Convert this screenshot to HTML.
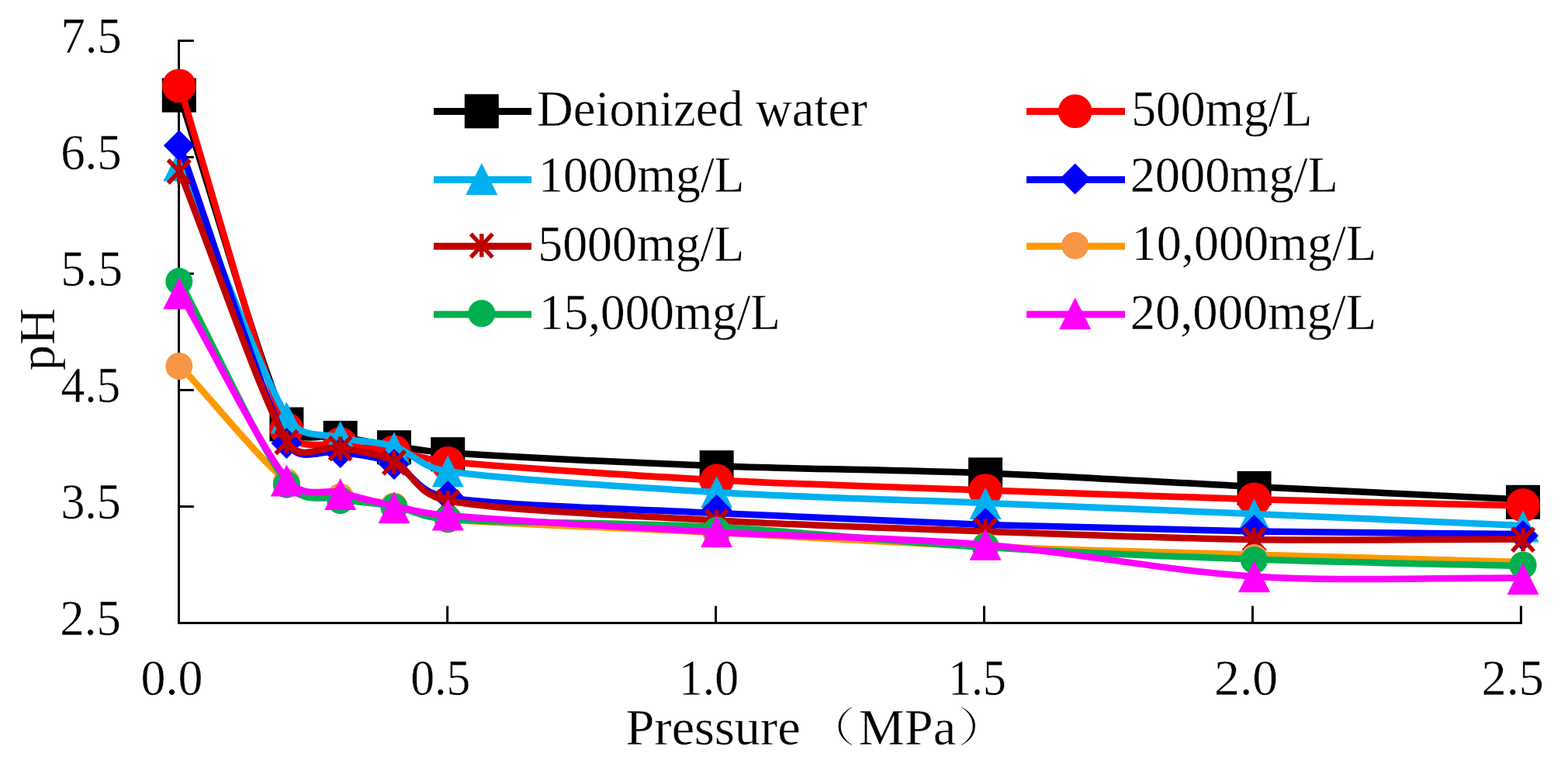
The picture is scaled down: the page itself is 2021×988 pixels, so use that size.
<!DOCTYPE html><html><head><meta charset="utf-8"><title>pH vs Pressure</title><style>html,body{margin:0;padding:0;background:#fff;}svg{display:block;}text{font-family:"Liberation Serif","Noto Serif CJK SC",serif;fill:#000;}</style></head><body>
<svg width="2021" height="988" viewBox="0 0 2021 988">
<rect width="2021" height="988" fill="#fff"/>
<rect x="229" y="51" width="3" height="753" fill="#000"/><rect x="229" y="801" width="1733" height="3" fill="#000"/><rect x="229" y="51.00" width="20.8" height="3" fill="#000"/><rect x="229" y="201.00" width="20.8" height="3" fill="#000"/><rect x="229" y="351.00" width="20.8" height="3" fill="#000"/><rect x="229" y="501.00" width="20.8" height="3" fill="#000"/><rect x="229" y="651.00" width="20.8" height="3" fill="#000"/><rect x="575.14" y="780.5" width="3" height="23.5" fill="#000"/><rect x="921.08" y="780.5" width="3" height="23.5" fill="#000"/><rect x="1267.02" y="780.5" width="3" height="23.5" fill="#000"/><rect x="1612.96" y="780.5" width="3" height="23.5" fill="#000"/><rect x="1958.90" y="780.5" width="3" height="23.5" fill="#000"/>
<path d="M230.80,120.70 C276.99,262.00 334.73,471.03 369.38,544.60 C384.60,576.93 415.57,557.15 438.66,562.10 C461.76,567.05 484.86,570.78 507.95,574.30 C531.05,577.82 542.38,581.03 577.24,583.20 C646.53,587.52 808.20,595.83 923.68,600.20 C1039.16,604.57 1154.64,604.95 1270.12,609.40 C1385.60,613.85 1501.08,621.22 1616.56,626.90 C1732.04,632.58 1847.52,637.97 1963.00,643.50" stroke="#000000" stroke-width="8.5" fill="none" stroke-linejoin="round" stroke-linecap="round"/>
<rect x="208.80" y="100.70" width="44" height="44" fill="#000000"/>
<rect x="347.38" y="524.60" width="44" height="44" fill="#000000"/>
<rect x="416.66" y="542.10" width="44" height="44" fill="#000000"/>
<rect x="485.95" y="554.30" width="44" height="44" fill="#000000"/>
<rect x="555.24" y="563.20" width="44" height="44" fill="#000000"/>
<rect x="901.68" y="580.20" width="44" height="44" fill="#000000"/>
<rect x="1248.12" y="589.40" width="44" height="44" fill="#000000"/>
<rect x="1594.56" y="606.90" width="44" height="44" fill="#000000"/>
<rect x="1941.00" y="624.80" width="44" height="44" fill="#000000"/>
<path d="M230.80,108.50 C276.99,256.33 334.73,474.58 369.38,552.00 C384.16,585.04 415.57,568.25 438.66,573.00 C461.76,577.75 484.86,576.87 507.95,580.50 C531.05,584.13 542.01,591.59 577.24,594.80 C646.53,601.12 808.20,612.28 923.68,618.40 C1039.16,624.52 1154.64,627.37 1270.12,631.50 C1385.60,635.63 1501.08,639.87 1616.56,643.20 C1732.04,646.53 1847.52,648.73 1963.00,651.50" stroke="#FF0000" stroke-width="8.5" fill="none" stroke-linejoin="round" stroke-linecap="round"/>
<circle cx="230.80" cy="110.50" r="21.80" fill="#FF0000"/>
<circle cx="369.38" cy="553.00" r="21.80" fill="#FF0000"/>
<circle cx="438.66" cy="572.00" r="21.80" fill="#FF0000"/>
<circle cx="507.95" cy="582.20" r="21.80" fill="#FF0000"/>
<circle cx="577.24" cy="596.80" r="21.80" fill="#FF0000"/>
<circle cx="923.68" cy="619.40" r="21.80" fill="#FF0000"/>
<circle cx="1270.12" cy="632.00" r="21.80" fill="#FF0000"/>
<circle cx="1616.56" cy="643.20" r="21.80" fill="#FF0000"/>
<circle cx="1963.00" cy="650.90" r="21.80" fill="#FF0000"/>
<path d="M230.80,210.90 C276.99,319.27 334.73,477.23 369.38,536.00 C388.30,568.11 415.57,557.00 438.66,563.50 C461.76,570.00 484.86,567.75 507.95,575.00 C531.05,582.25 539.46,601.62 577.24,607.00 C646.53,616.87 808.20,627.37 923.68,634.20 C1039.16,641.03 1154.64,643.37 1270.12,648.00 C1385.60,652.63 1501.08,657.17 1616.56,662.00 C1732.04,666.83 1847.52,672.00 1963.00,677.00" stroke="#00B0F0" stroke-width="8.5" fill="none" stroke-linejoin="round" stroke-linecap="round"/>
<path d="M230.80,192.40 L251.30,233.40 L210.30,233.40 Z" fill="#00B0F0"/>
<path d="M369.38,517.50 L389.88,558.50 L348.88,558.50 Z" fill="#00B0F0"/>
<path d="M438.66,542.20 L459.16,583.20 L418.16,583.20 Z" fill="#00B0F0"/>
<path d="M507.95,556.30 L528.45,597.30 L487.45,597.30 Z" fill="#00B0F0"/>
<path d="M577.24,586.50 L597.74,627.50 L556.74,627.50 Z" fill="#00B0F0"/>
<path d="M923.68,613.20 L944.18,654.20 L903.18,654.20 Z" fill="#00B0F0"/>
<path d="M1270.12,628.00 L1290.62,669.00 L1249.62,669.00 Z" fill="#00B0F0"/>
<path d="M1616.56,642.40 L1637.06,683.40 L1596.06,683.40 Z" fill="#00B0F0"/>
<path d="M1963.00,657.50 L1983.50,698.50 L1942.50,698.50 Z" fill="#00B0F0"/>
<path d="M230.80,185.50 C276.99,313.33 334.73,502.92 369.38,569.00 C385.74,600.22 415.57,577.33 438.66,582.00 C461.76,586.67 484.86,587.17 507.95,597.00 C531.05,606.83 536.68,634.76 577.24,641.00 C646.53,651.67 808.20,655.17 923.68,661.00 C1039.16,666.83 1154.64,672.08 1270.12,676.00 C1385.60,679.92 1501.08,682.50 1616.56,684.50 C1732.04,686.50 1847.52,686.83 1963.00,688.00" stroke="#0000FF" stroke-width="8.5" fill="none" stroke-linejoin="round" stroke-linecap="round"/>
<path d="M230.80,167.50 L250.80,187.50 L230.80,207.50 L210.80,187.50 Z" fill="#0000FF"/>
<path d="M369.38,551.00 L389.38,571.00 L369.38,591.00 L349.38,571.00 Z" fill="#0000FF"/>
<path d="M438.66,563.00 L458.66,583.00 L438.66,603.00 L418.66,583.00 Z" fill="#0000FF"/>
<path d="M507.95,578.00 L527.95,598.00 L507.95,618.00 L487.95,598.00 Z" fill="#0000FF"/>
<path d="M577.24,619.00 L597.24,639.00 L577.24,659.00 L557.24,639.00 Z" fill="#0000FF"/>
<path d="M923.68,637.00 L943.68,657.00 L923.68,677.00 L903.68,657.00 Z" fill="#0000FF"/>
<path d="M1270.12,654.00 L1290.12,674.00 L1270.12,694.00 L1250.12,674.00 Z" fill="#0000FF"/>
<path d="M1616.56,663.00 L1636.56,683.00 L1616.56,703.00 L1596.56,683.00 Z" fill="#0000FF"/>
<path d="M1963.00,670.00 L1983.00,690.00 L1963.00,710.00 L1943.00,690.00 Z" fill="#0000FF"/>
<path d="M230.80,219.00 C276.99,335.33 334.73,508.33 369.38,568.00 C386.92,598.21 415.57,572.58 438.66,577.00 C461.76,581.42 484.86,583.17 507.95,594.50 C531.05,605.83 535.07,637.29 577.24,645.00 C646.53,657.67 808.20,663.92 923.68,670.50 C1039.16,677.08 1154.64,680.42 1270.12,684.50 C1385.60,688.58 1501.08,693.33 1616.56,695.00 C1732.04,696.67 1847.52,694.67 1963.00,694.50" stroke="#C00000" stroke-width="8.5" fill="none" stroke-linejoin="round" stroke-linecap="round"/>
<path d="M216.80,206.00 L244.80,236.00 M244.80,206.00 L216.80,236.00 M230.80,206.00 L230.80,236.00" stroke="#C00000" stroke-width="5.5" fill="none"/>
<path d="M355.38,554.50 L383.38,584.50 M383.38,554.50 L355.38,584.50 M369.38,554.50 L369.38,584.50" stroke="#C00000" stroke-width="5.5" fill="none"/>
<path d="M424.66,562.60 L452.66,592.60 M452.66,562.60 L424.66,592.60 M438.66,562.60 L438.66,592.60" stroke="#C00000" stroke-width="5.5" fill="none"/>
<path d="M493.95,580.80 L521.95,610.80 M521.95,580.80 L493.95,610.80 M507.95,580.80 L507.95,610.80" stroke="#C00000" stroke-width="5.5" fill="none"/>
<path d="M563.24,632.00 L591.24,662.00 M591.24,632.00 L563.24,662.00 M577.24,632.00 L577.24,662.00" stroke="#C00000" stroke-width="5.5" fill="none"/>
<path d="M909.68,657.00 L937.68,687.00 M937.68,657.00 L909.68,687.00 M923.68,657.00 L923.68,687.00" stroke="#C00000" stroke-width="5.5" fill="none"/>
<path d="M1256.12,668.50 L1284.12,698.50 M1284.12,668.50 L1256.12,698.50 M1270.12,668.50 L1270.12,698.50" stroke="#C00000" stroke-width="5.5" fill="none"/>
<path d="M1602.56,680.00 L1630.56,710.00 M1630.56,680.00 L1602.56,710.00 M1616.56,680.00 L1616.56,710.00" stroke="#C00000" stroke-width="5.5" fill="none"/>
<path d="M1949.00,680.20 L1977.00,710.20 M1977.00,680.20 L1949.00,710.20 M1963.00,680.20 L1963.00,710.20" stroke="#C00000" stroke-width="5.5" fill="none"/>
<path d="M230.80,469.70 C276.99,519.80 334.73,591.78 369.38,620.00 C397.23,642.69 415.57,634.00 438.66,639.00 C461.76,644.00 484.86,645.00 507.95,650.00 C531.05,655.00 541.45,665.90 577.24,669.00 C646.53,675.00 808.20,680.17 923.68,686.00 C1039.16,691.83 1154.64,699.25 1270.12,704.00 C1385.60,708.75 1501.08,711.17 1616.56,714.50 C1732.04,717.83 1847.52,720.83 1963.00,724.00" stroke="#FF9900" stroke-width="8.5" fill="none" stroke-linejoin="round" stroke-linecap="round"/>
<circle cx="230.80" cy="471.70" r="17.50" fill="#F79646"/>
<circle cx="369.38" cy="621.00" r="17.50" fill="#F79646"/>
<circle cx="438.66" cy="640.00" r="17.50" fill="#F79646"/>
<circle cx="507.95" cy="652.00" r="17.50" fill="#F79646"/>
<circle cx="577.24" cy="669.00" r="17.50" fill="#F79646"/>
<circle cx="923.68" cy="688.00" r="17.50" fill="#F79646"/>
<circle cx="1270.12" cy="703.50" r="17.50" fill="#F79646"/>
<circle cx="1616.56" cy="718.60" r="17.50" fill="#F79646"/>
<circle cx="1963.00" cy="728.00" r="17.50" fill="#F79646"/>
<path d="M230.80,360.60 C276.99,447.80 334.73,575.22 369.38,622.20 C390.80,651.26 415.57,637.53 438.66,642.50 C461.76,647.47 484.86,647.58 507.95,652.00 C531.05,656.42 541.64,666.69 577.24,669.00 C646.53,673.50 808.20,673.00 923.68,679.00 C1039.16,685.00 1154.64,698.08 1270.12,705.00 C1385.60,711.92 1501.08,716.50 1616.56,720.50 C1732.04,724.50 1847.52,726.17 1963.00,729.00" stroke="#00B050" stroke-width="8.5" fill="none" stroke-linejoin="round" stroke-linecap="round"/>
<circle cx="230.80" cy="362.60" r="17.50" fill="#00B050"/>
<circle cx="369.38" cy="624.20" r="17.50" fill="#00B050"/>
<circle cx="438.66" cy="644.50" r="17.50" fill="#00B050"/>
<circle cx="507.95" cy="653.50" r="17.50" fill="#00B050"/>
<circle cx="577.24" cy="668.50" r="17.50" fill="#00B050"/>
<circle cx="923.68" cy="683.30" r="17.50" fill="#00B050"/>
<circle cx="1270.12" cy="704.00" r="17.50" fill="#00B050"/>
<circle cx="1616.56" cy="721.60" r="17.50" fill="#00B050"/>
<circle cx="1963.00" cy="728.20" r="17.50" fill="#00B050"/>
<path d="M230.80,375.70 C276.99,456.13 334.73,573.85 369.38,617.00 C391.75,644.87 415.57,628.80 438.66,634.60 C461.76,640.40 484.86,646.90 507.95,651.80 C531.05,656.70 542.18,661.16 577.24,664.00 C646.53,669.62 808.20,679.22 923.68,685.50 C1039.16,691.78 1154.64,692.22 1270.12,701.70 C1385.60,711.18 1501.08,735.27 1616.56,742.40 C1732.04,749.53 1847.52,743.80 1963.00,744.50" stroke="#FF00FF" stroke-width="8.5" fill="none" stroke-linejoin="round" stroke-linecap="round"/>
<path d="M230.80,357.20 L251.30,398.20 L210.30,398.20 Z" fill="#FF00FF"/>
<path d="M369.38,598.50 L389.88,639.50 L348.88,639.50 Z" fill="#FF00FF"/>
<path d="M438.66,616.10 L459.16,657.10 L418.16,657.10 Z" fill="#FF00FF"/>
<path d="M507.95,633.30 L528.45,674.30 L487.45,674.30 Z" fill="#FF00FF"/>
<path d="M577.24,642.50 L597.74,683.50 L556.74,683.50 Z" fill="#FF00FF"/>
<path d="M923.68,663.90 L944.18,704.90 L903.18,704.90 Z" fill="#FF00FF"/>
<path d="M1270.12,680.70 L1290.62,721.70 L1249.62,721.70 Z" fill="#FF00FF"/>
<path d="M1616.56,721.90 L1637.06,762.90 L1596.06,762.90 Z" fill="#FF00FF"/>
<path d="M1963.00,725.00 L1983.50,766.00 L1942.50,766.00 Z" fill="#FF00FF"/>
<path d="M559.0,143.5 H685.0" stroke="#000000" stroke-width="9"/>
<rect x="598.80" y="121.30" width="44" height="44" fill="#000000"/>
<text transform="translate(691.94,162.00) scale(0.9806,1)" font-size="66" stroke="#fff" stroke-width="0.4">Deionized water</text>
<path d="M1323.0,143.5 H1450.0" stroke="#FF0000" stroke-width="9"/>
<circle cx="1385.70" cy="143.30" r="21.80" fill="#FF0000"/>
<text transform="translate(1458.14,162.40) scale(0.9641,1)" font-size="66" stroke="#fff" stroke-width="0.4">500mg/L</text>
<path d="M559.0,231.5 H685.0" stroke="#00B0F0" stroke-width="9"/>
<path d="M620.80,209.90 L641.30,250.90 L600.30,250.90 Z" fill="#00B0F0"/>
<text transform="translate(694.11,247.30) scale(0.9653,1)" font-size="66" stroke="#fff" stroke-width="0.4">1000mg/L</text>
<path d="M1323.0,231.5 H1450.0" stroke="#0000FF" stroke-width="9"/>
<path d="M1385.70,210.40 L1405.70,230.40 L1385.70,250.40 L1365.70,230.40 Z" fill="#0000FF"/>
<text transform="translate(1456.67,247.30) scale(0.9750,1)" font-size="66" stroke="#fff" stroke-width="0.4">2000mg/L</text>
<path d="M559.0,317.2 H685.0" stroke="#C00000" stroke-width="9"/>
<path d="M606.80,301.30 L634.80,331.30 M634.80,301.30 L606.80,331.30 M620.80,301.30 L620.80,331.30" stroke="#C00000" stroke-width="5.5" fill="none"/>
<text transform="translate(693.23,335.50) scale(0.9682,1)" font-size="66" stroke="#fff" stroke-width="0.4">5000mg/L</text>
<path d="M1323.0,317.2 H1450.0" stroke="#FF9900" stroke-width="9"/>
<circle cx="1385.70" cy="316.30" r="17.50" fill="#F79646"/>
<text transform="translate(1458.56,335.30) scale(0.9727,1)" font-size="66" stroke="#fff" stroke-width="0.4">10,000mg/L</text>
<path d="M559.0,405.0 H685.0" stroke="#00B050" stroke-width="9"/>
<circle cx="620.80" cy="403.80" r="17.50" fill="#00B050"/>
<text transform="translate(695.05,424.30) scale(0.9581,1)" font-size="66" stroke="#fff" stroke-width="0.4">15,000mg/L</text>
<path d="M1323.0,405.0 H1450.0" stroke="#FF00FF" stroke-width="9"/>
<path d="M1385.70,383.30 L1406.20,424.30 L1365.20,424.30 Z" fill="#FF00FF"/>
<text transform="translate(1456.66,423.90) scale(0.9786,1)" font-size="66" stroke="#fff" stroke-width="0.4">20,000mg/L</text>
<text transform="translate(78.51,67.50) scale(0.9487,1)" font-size="66" stroke="#fff" stroke-width="0.4">7.5</text>
<text transform="translate(78.14,217.50) scale(0.9532,1)" font-size="66" stroke="#fff" stroke-width="0.4">6.5</text>
<text transform="translate(78.34,367.50) scale(0.9658,1)" font-size="66" stroke="#fff" stroke-width="0.4">5.5</text>
<text transform="translate(78.47,517.50) scale(0.9316,1)" font-size="66" stroke="#fff" stroke-width="0.4">4.5</text>
<text transform="translate(78.38,667.50) scale(0.9390,1)" font-size="66" stroke="#fff" stroke-width="0.4">3.5</text>
<text transform="translate(77.34,817.50) scale(0.9519,1)" font-size="66" stroke="#fff" stroke-width="0.4">2.5</text>
<text transform="translate(181.56,894.50) scale(0.9679,1)" font-size="66" stroke="#fff" stroke-width="0.4">0.0</text>
<text transform="translate(529.13,894.50) scale(0.9359,1)" font-size="66" stroke="#fff" stroke-width="0.4">0.5</text>
<text transform="translate(874.66,894.50) scale(0.9392,1)" font-size="66" stroke="#fff" stroke-width="0.4">1.0</text>
<text transform="translate(1222.18,894.50) scale(0.9041,1)" font-size="66" stroke="#fff" stroke-width="0.4">1.5</text>
<text transform="translate(1565.12,894.50) scale(0.9948,1)" font-size="66" stroke="#fff" stroke-width="0.4">2.0</text>
<text transform="translate(1909.58,894.50) scale(0.9727,1)" font-size="66" stroke="#fff" stroke-width="0.4">2.5</text>
<text transform="translate(806.59,959.00) scale(1.0064,1)" font-size="66" stroke="#fff" stroke-width="0.4">Pressure</text>
<text transform="translate(1106.79,959.00) scale(1.0066,1)" font-size="66" stroke="#fff" stroke-width="0.4">MPa</text>
<text transform="translate(1036,955.5) scale(1.25,1)" font-size="54" stroke="#fff" stroke-width="1.0" style="font-family:&quot;Liberation Serif&quot;,&quot;Noto Serif CJK SC&quot;,serif">（</text>
<text transform="translate(1234,955.5) scale(1.25,1)" font-size="54" stroke="#fff" stroke-width="1.0" style="font-family:&quot;Liberation Serif&quot;,&quot;Noto Serif CJK SC&quot;,serif">）</text>
<text transform="translate(70,477.6) rotate(-90)" font-size="66" stroke="#fff" stroke-width="0.4">pH</text>
</svg></body></html>
